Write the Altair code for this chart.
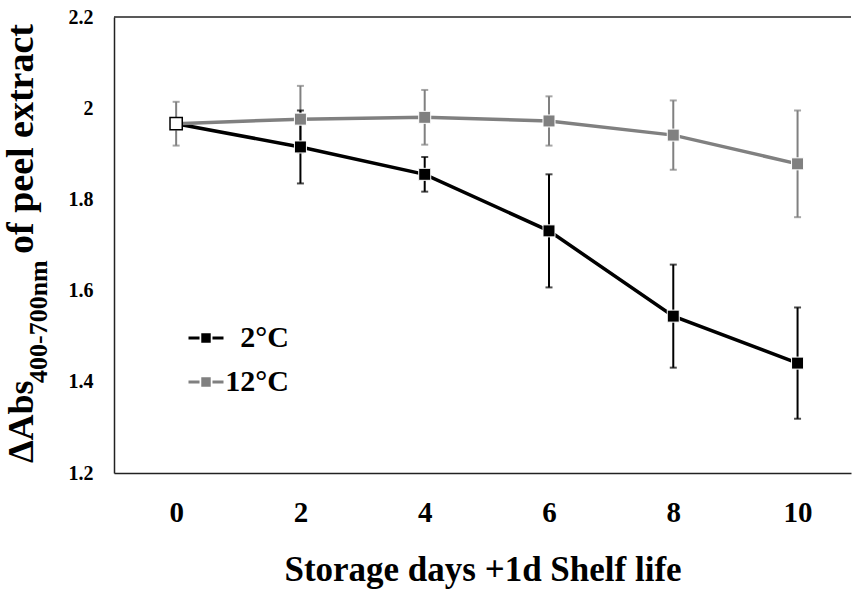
import altair as alt
import pandas as pd

# ---- data ----
days = [0, 2, 4, 6, 8, 10]
mean_2c = [1.966, 1.915, 1.855, 1.731, 1.544, 1.441]
err_2c = [0.0, 0.080, 0.038, 0.124, 0.113, 0.122]
mean_12c = [1.966, 1.976, 1.980, 1.972, 1.941, 1.878]
err_12c = [0.048, 0.073, 0.060, 0.054, 0.076, 0.117]
series = ["2°C", "12°C"]
colors = ["#000000", "#808080"]
x_ticks = [0, 2, 4, 6, 8, 10]
y_ticks = [1.2, 1.4, 1.6, 1.8, 2.0, 2.2]
x_title = "Storage days +1d Shelf life"
y_title_main = "ΔAbs"
y_title_sub = "400-700nm"
y_title_rest = "of peel extract"

FONT = "Liberation Serif"
W, H = 737, 456

rows = []
for d, m, e in zip(days, mean_2c, err_2c):
    rows.append({"day": d, "val": m, "lo": m - e, "hi": m + e, "s": series[0], "ord": 1})
for d, m, e in zip(days, mean_12c, err_12c):
    rows.append({"day": d, "val": m, "lo": m - e, "hi": m + e, "s": series[1], "ord": 0})
df = pd.DataFrame(rows)
df_err = df[df["hi"] > df["lo"]]

# legend symbol: short line, filled square (drawn as stacked strokes), short line
sym_parts = ["M-1,0H-0.37", "M0.37,0H1"]
for k in range(-3, 4):
    yy = k * 0.06
    sym_parts.append(f"M-0.27,{yy:.3f}H0.27")
SYMBOL = "".join(sym_parts)

xs = alt.X("day:Q", scale=alt.Scale(domain=[-1, 10.86], nice=False, zero=False),
           axis=alt.Axis(values=x_ticks, format="d", title=x_title, ticks=False, grid=False,
                         domainColor="#222222", domainWidth=1.5,
                         labelFont=FONT, labelFontWeight="bold", labelFontSize=29,
                         labelColor="black", labelPadding=25,
                         titleFont=FONT, titleFontWeight="bold", titleFontSize=35,
                         titleColor="black", titlePadding=25))
ys = alt.Y("val:Q", scale=alt.Scale(domain=[1.2, 2.2], nice=False, zero=False),
           axis=alt.Axis(values=y_ticks, format="~g", title=None, ticks=False, grid=False,
                         domainColor="#222222", domainWidth=1.5,
                         labelFont=FONT, labelFontWeight="bold", labelFontSize=20,
                         labelColor="black", labelPadding=21))
col = alt.Color("s:N", scale=alt.Scale(domain=series, range=colors),
                legend=alt.Legend(title=None, orient="none", legendX=73, legendY=302,
                                  symbolType=SYMBOL,
                                  symbolSize=1225, symbolStrokeWidth=3,
                                  symbolOpacity=1,
                                  labelFont=FONT, labelFontWeight="bold", labelFontSize=30,
                                  labelColor="black", labelAlign="right",
                                  labelOffset=64, rowPadding=10,
                                  labelLimit=200))

base = alt.Chart(df)

lines = base.mark_line(strokeWidth=3.5).encode(
    x=xs, y=ys, color=col, order=alt.Order("day:Q"), detail="s:N")

err_rules = alt.Chart(df_err).mark_rule(strokeWidth=2).encode(
    x="day:Q", y="lo:Q", y2="hi:Q", color=col)
err_caps_lo = alt.Chart(df_err).mark_tick(thickness=2, size=7, orient="horizontal").encode(
    x="day:Q", y="lo:Q", color=col)
err_caps_hi = alt.Chart(df_err).mark_tick(thickness=2, size=7, orient="horizontal").encode(
    x="day:Q", y="hi:Q", color=col)

pts = base.mark_point(shape="square", filled=True, size=144, opacity=1,
                      stroke="white", strokeWidth=1).encode(
    x="day:Q", y="val:Q", color=col)

start = alt.Chart(df[(df["day"] == 0) & (df["ord"] == 0)]).mark_point(
    shape="square", filled=True, size=150, fill="white", stroke="black",
    strokeWidth=1.5, opacity=1).encode(x="day:Q", y="val:Q")

top_line = alt.Chart(pd.DataFrame({"k": [0]})).mark_rule(
    color="#222222", strokeWidth=1.5).encode(
    x=alt.value(0), x2=alt.value(W), y=alt.value(0))

def ytxt(t, size, x, y):
    return alt.Chart(pd.DataFrame({"t": [t]})).mark_text(
        angle=270, align="left", baseline="alphabetic", font=FONT,
        fontWeight="bold", fontSize=size, color="black").encode(
        text="t:N", x=alt.value(x), y=alt.value(y))

t1 = ytxt(y_title_main, 36, -81, 446)
t2 = ytxt(y_title_sub, 26, -67, 366)
t3 = ytxt(y_title_rest, 38, -81, 237)

chart = alt.layer(
    lines,
    err_rules.transform_filter("datum.ord == 0"),
    err_caps_lo.transform_filter("datum.ord == 0"),
    err_caps_hi.transform_filter("datum.ord == 0"),
    err_rules.transform_filter("datum.ord == 1"),
    err_caps_lo.transform_filter("datum.ord == 1"),
    err_caps_hi.transform_filter("datum.ord == 1"),
    pts, start, top_line, t1, t2, t3,
).properties(
    width=W, height=H,
    autosize=alt.AutoSizeParams(type="none"),
    padding={"left": 114, "top": 17, "right": 1, "bottom": 117},
    background="white",
).configure_view(stroke=None)

chart.save("out.html", embed_options={"renderer": "svg", "actions": False})
